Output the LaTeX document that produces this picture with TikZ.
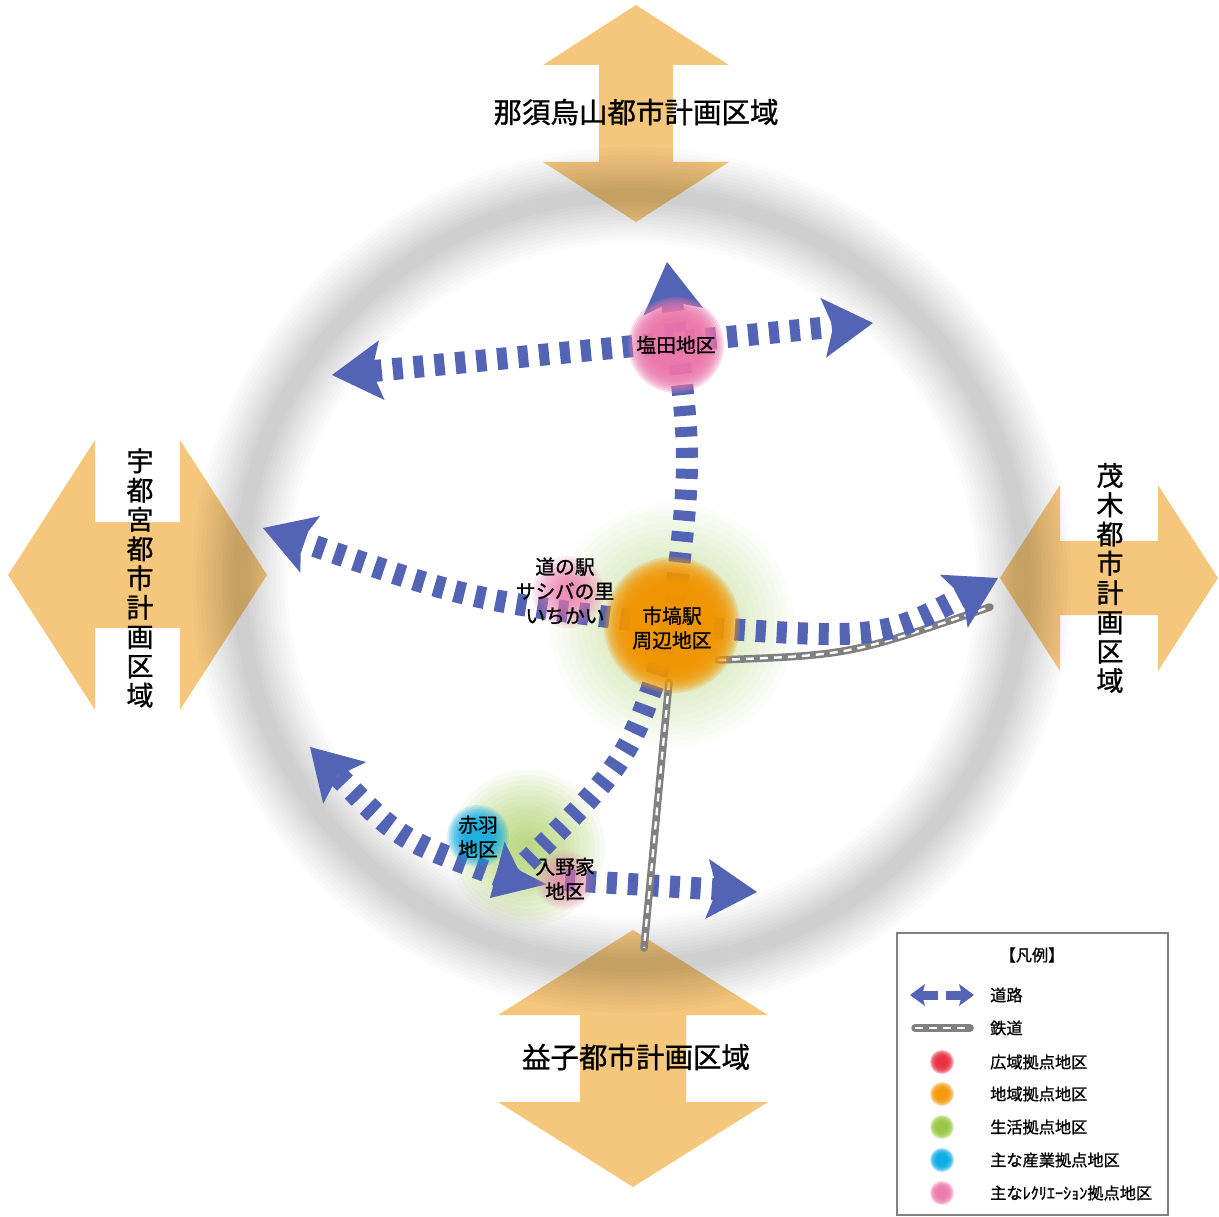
\documentclass[tikz,border=0pt]{standalone}
\usepackage{fontspec}
\setmainfont{Noto Sans CJK JP}[FakeBold=1.0]
\usetikzlibrary{arrows.meta}
\definecolor{areaor}{RGB}{245,199,124}
\definecolor{roadblue}{RGB}{84,100,180}
\definecolor{hubor}{RGB}{243,150,0}
\definecolor{hubgr}{RGB}{150,198,60}
\definecolor{hubpk}{RGB}{236,118,170}
\definecolor{hubbl}{RGB}{0,168,230}
\definecolor{hubrd}{RGB}{232,40,60}
\definecolor{railgr}{RGB}{128,128,128}
% #1 centre, #2 radius, #3 colour, #4 opacity per layer, #5 inner fraction, #6 number of steps
\newcommand\softdot[6]{\foreach \k in {0,...,#6}{\fill[#3, opacity=#4] (#1) circle[radius={#2*(#5+(1-#5)*\k/#6)}];}}
\newcommand\areafont{\fontsize{28.5}{30}\selectfont}
\newcommand\areavfont{\fontsize{27}{29.3}\selectfont}
\newcommand\hubfont{\fontsize{19.8}{24.5}\selectfont}
\newcommand\legfont{\fontsize{16.2}{18}\selectfont}
\tikzset{
  RoadHead/.tip={Stealth[length=50pt,width=60pt,inset=10pt,line width=0pt]},
  roadline/.style={roadblue, line width=22pt, dash pattern=on 10pt off 11pt},
  railline/.style={railgr, line width=7.5pt, line cap=round,
    postaction={draw, white, line width=2.4pt, line cap=butt, dash pattern=on 8pt off 6pt}},
  areaarrow/.style={fill=areaor, draw=none},
  hublabel/.style={font=\hubfont, align=center, text=black, inner sep=0pt},
  arealabel/.style={font=\areafont, text=black, inner sep=0pt},
  areavlabel/.style={font=\areavfont, align=center, text=black, inner sep=0pt},
  legtext/.style={font=\legfont, anchor=west, inner sep=0pt}
}
\begin{document}
\begin{tikzpicture}[x=1pt,y=-1pt]
\useasboundingbox (0,0) rectangle (1219,1217);
\fill[white] (0,0) rectangle (1219,1217);
% ---- coordinates ----
\coordinate (ringc) at (632,580);
\coordinate (ichi) at (672,625);
\coordinate (shioda) at (676,345);
\coordinate (michi) at (568,592);
\coordinate (akabane) at (478,836);
\coordinate (irino) at (565,880);
\coordinate (greenS) at (527,848);
\coordinate (swhub) at (505,878);
\coordinate (shL) at (332,375);
\coordinate (shR) at (873,323);
\coordinate (shU) at (667,262);
\coordinate (wL) at (263,528);
\coordinate (eR) at (998,578);
\coordinate (sw) at (490,898);
\coordinate (nw) at (310,747);
\coordinate (eS) at (757,892);
\coordinate (railS0) at (669,682);
\coordinate (railS1) at (644,948);
\coordinate (railE0) at (718,660);
\coordinate (railE1) at (990,607);
% ---- outer area arrows ----
\fill[areaarrow] (636,5) -- (729,65) -- (673,65) -- (673,162) -- (729,162) -- (636,222)
  -- (543,162) -- (599,162) -- (599,65) -- (543,65) -- cycle;
\fill[areaarrow] (633,930) -- (768,1015) -- (686,1015) -- (686,1102) -- (768,1102) -- (633,1187)
  -- (498,1102) -- (580,1102) -- (580,1015) -- (498,1015) -- cycle;
\fill[areaarrow] (8,575) -- (95,440) -- (95,522) -- (180,522) -- (180,440) -- (267,575)
  -- (180,710) -- (180,628) -- (95,628) -- (95,710) -- cycle;
\fill[areaarrow] (1000,578) -- (1060,485) -- (1060,541) -- (1158,541) -- (1158,485) -- (1218,578)
  -- (1158,671) -- (1158,615) -- (1060,615) -- (1060,671) -- cycle;
% ---- soft ring ----
\foreach \w in {96,88,80,72,64,57,50,43,36,29,22,15}
  {\draw[black, opacity=0.016, line width=\w pt] (ringc) ellipse [x radius=392, y radius=385];}
% ---- pale green hubs (under roads) ----
\softdot{ichi}{122}{hubgr}{0.03}{0.15}{16}
\softdot{greenS}{78}{hubgr}{0.06}{0.1}{14}
% ---- railway east (under road) ----
\draw[railline] (railE0) .. controls (850,655) .. (railE1);
% ---- roads ----
\draw[roadline, RoadHead-RoadHead] (shL) -- (shR);
\draw[roadline, -RoadHead] (ichi) .. controls (692,460) .. (shU);
\draw[roadline, -RoadHead] (ichi) .. controls (470,600) .. (wL);
\draw[roadline, -RoadHead] (ichi) .. controls (880,640) .. (eR);
\draw[roadline, -RoadHead] (ichi) .. controls (630,760) .. (sw);
\draw[roadline, -RoadHead] (swhub) .. controls (400,840) .. (nw);
\draw[roadline, -RoadHead] (irino) -- (eS);
% ---- railway south ----
\draw[railline] (railS0) -- (railS1);
% ---- coloured hubs (over roads) ----
\softdot{ichi}{68}{hubor}{0.25}{0.6}{12}
\softdot{shioda}{48}{hubpk}{0.22}{0.55}{12}
\softdot{michi}{36}{hubpk}{0.13}{0.2}{10}
\softdot{akabane}{31}{hubbl}{0.16}{0.45}{10}
\softdot{irino}{30}{hubpk}{0.09}{0.3}{10}
% ---- hub labels ----
\node[hublabel] (lshioda) at (676,345) {塩田地区};
\node[hublabel] (lmichi) at (565,591) {道の駅\\サシバの里\\いちかい};
\node[hublabel] (lichi) at (672,628) {市塙駅\\周辺地区};
\node[hublabel] (lakabane) at (478,837) {赤羽\\地区};
\node[hublabel] (lirino) at (565,879) {入野家\\地区};
% ---- area labels ----
\node[arealabel] (lnorth) at (636,112) {那須烏山都市計画区域};
\node[arealabel] (lsouth) at (636,1057) {益子都市計画区域};
\node[areavlabel] (lwest) at (140,578) {宇\\都\\宮\\都\\市\\計\\画\\区\\域};
\node[areavlabel] (least) at (1110,578) {茂\\木\\都\\市\\計\\画\\区\\域};
% ---- legend ----
\draw[railgr, line width=1.2pt, fill=white] (897,933) rectangle (1168,1215);
\node[font=\legfont, inner sep=0pt] (lgtitle) at (1032,955) {【凡例】};
\coordinate (lgA0) at (910,995);
\coordinate (lgA1) at (938,995);
\coordinate (lgB0) at (946,995);
\coordinate (lgB1) at (974,995);
\draw[roadblue, line width=9pt, -{Stealth[length=15pt,width=22pt,inset=3pt,line width=0pt]}] (lgA1) -- (lgA0);
\draw[roadblue, line width=9pt, -{Stealth[length=15pt,width=22pt,inset=3pt,line width=0pt]}] (lgB0) -- (lgB1);
\node[legtext] (lg1) at (990,995) {道路};
\coordinate (lgR0) at (915,1028);
\coordinate (lgR1) at (970,1028);
\draw[railline] (lgR0) -- (lgR1);
\node[legtext] (lg2) at (990,1028) {鉄道};
\coordinate (lgd3) at (942,1062);
\coordinate (lgd4) at (942,1094);
\coordinate (lgd5) at (942,1127);
\coordinate (lgd6) at (942,1160);
\coordinate (lgd7) at (942,1193);
\softdot{lgd3}{12}{hubrd}{0.3}{0.45}{7}
\softdot{lgd4}{12}{hubor}{0.3}{0.45}{7}
\softdot{lgd5}{12}{hubgr}{0.3}{0.45}{7}
\softdot{lgd6}{12}{hubbl}{0.3}{0.45}{7}
\softdot{lgd7}{12}{hubpk}{0.3}{0.45}{7}
\node[legtext] (lg3) at (990,1062) {広域拠点地区};
\node[legtext] (lg4) at (990,1094) {地域拠点地区};
\node[legtext] (lg5) at (990,1127) {生活拠点地区};
\node[legtext] (lg6) at (990,1160) {主な産業拠点地区};
\node[legtext] (lg7) at (990,1193) {主なﾚｸﾘｴｰｼｮﾝ拠点地区};
\end{tikzpicture}
\end{document}
